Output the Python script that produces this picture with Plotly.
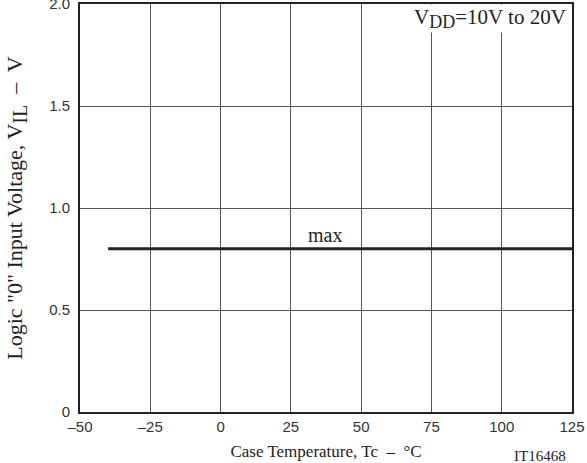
import plotly.graph_objects as go

temperature = [-40, 125]
vil_max = [0.8, 0.8]

x_ticks = [-50, -25, 0, 25, 50, 75, 100, 125]
x_tick_labels = ["–50", "–25", "0", "25", "50", "75", "100", "125"]
y_ticks = [0, 0.5, 1.0, 1.5, 2.0]
y_tick_labels = ["0", "0.5", "1.0", "1.5", "2.0"]

serif = "Liberation Serif, Times New Roman, serif"
sans = "Liberation Sans, Arial, sans-serif"
ink = "#222222"

fig = go.Figure()
fig.add_trace(go.Scatter(
    x=temperature, y=vil_max, mode="lines",
    line=dict(color=ink, width=3), showlegend=False, hoverinfo="skip",
))

fig.add_annotation(x=37, y=vil_max[0], yanchor="bottom", yshift=1, text="max", showarrow=False,
                   font=dict(family=serif, size=20, color=ink))
fig.add_annotation(x=1, y=1, xref="paper", yref="paper", xanchor="right", yanchor="top",
                   text="V<sub><span style='font-size:18px'>DD</span></sub>=10V to 20V",
                   showarrow=False, bgcolor="white",
                   xshift=-5, yshift=0, borderpad=0,
                   font=dict(family=serif, size=21, color=ink))
fig.add_annotation(x=1, y=0, xref="paper", yref="paper", xanchor="right", yanchor="top",
                   text="IT16468", showarrow=False, yshift=-34, xshift=-4,
                   font=dict(family=serif, size=15, color=ink))

fig.update_layout(
    width=587, height=463,
    margin=dict(l=80, r=15, t=4, b=51, autoexpand=False),
    paper_bgcolor="white", plot_bgcolor="white",
    font=dict(family=sans, size=15, color="#333333"),
)
fig.update_xaxes(
    range=[-50, 125], tickvals=x_ticks, ticktext=x_tick_labels,
    showgrid=True, gridcolor="#555555", gridwidth=1, zeroline=False,
    showline=True, linecolor=ink, linewidth=2, mirror=True, ticks="",
    ticklabeloverflow="allow", automargin=False,
    title=dict(text="Case Temperature, Tc  –  °C", font=dict(family=serif, size=17, color=ink), standoff=11),
    tickfont=dict(family=sans, size=15, color="#333333"),
)
fig.update_yaxes(
    range=[0, 2.0], tickvals=y_ticks, ticktext=y_tick_labels,
    showgrid=True, gridcolor="#555555", gridwidth=1, zeroline=False,
    showline=True, linecolor=ink, linewidth=2, mirror=True, ticks="",
    ticklabeloverflow="allow", ticklabelstandoff=5, automargin=False,
    title=dict(text="Logic \"0\" Input Voltage, V<sub><span style='font-size:20px'>IL</span></sub>  –  V",
               font=dict(family=serif, size=22, color=ink), standoff=20),
    tickfont=dict(family=sans, size=15, color="#333333"),
)

fig.write_html(
    "out.html",
    config={"displayModeBar": False},
    post_script="document.body.style.margin='0';document.body.style.overflow='hidden';",
)
